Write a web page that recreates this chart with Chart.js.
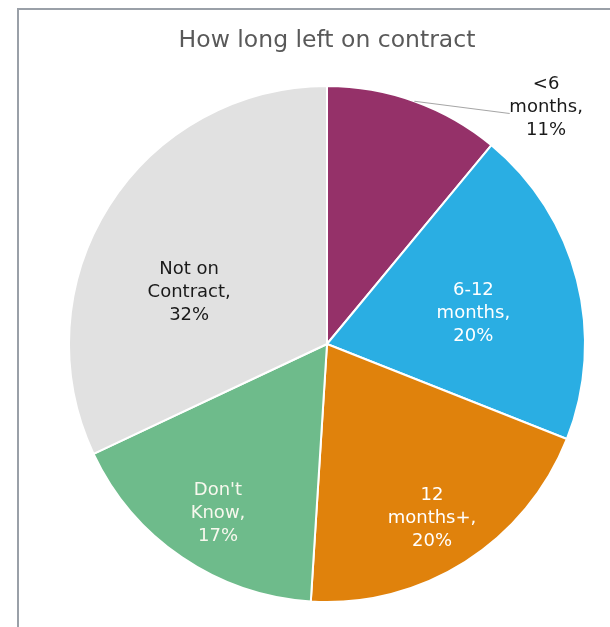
<!DOCTYPE html>
<html>
<head>
<meta charset="utf-8">
<script src="https://cdn.jsdelivr.net/npm/chart.js@4/dist/chart.umd.min.js"></script>
<style>
  html, body { margin: 0; padding: 0; background: #ffffff; }
  #wrap { position: relative; width: 610px; height: 627px; overflow: hidden; }
  canvas { display: block; }
</style>
</head>
<body>
<div id="wrap"><canvas id="c" width="610" height="627"></canvas></div>
<script>
// Categories (line-broken as printed on the slices) and shares in percent
const categories = [["<6", "months"], ["6-12", "months"], ["12", "months+"], ["Don't", "Know"], ["Not on", "Contract"]];
const shares = [11, 20, 20, 17, 32];
const sliceColors = ["#953169", "#2aaee3", "#e0820c", "#6ebb8b", "#e1e1e1"];
const labelColors = ["#1a1a1a", "#ffffff", "#ffffff", "#f8f8ee", "#1a1a1a"];
const chartTitle = "How long left on contract";

// Label placement per slice: radius as fraction of outer radius, angle shift in degrees
const placement = [
  { r: 1.25, shift: 23, leader: { r: 1.14, shift: 18.6 } },
  { r: 0.58, shift: 2.4 },
  { r: 0.79, shift: 1.4 },
  { r: 0.78, shift: -1.4 },
  { r: 0.57, shift: -12 }
];

const FONT = "'DejaVu Sans', Verdana, sans-serif";

const framePlugin = {
  id: 'frame',
  beforeDraw(chart) {
    const ctx = chart.ctx;
    ctx.save();
    ctx.strokeStyle = '#9aa0a8';
    ctx.lineWidth = 2;
    ctx.beginPath();
    ctx.moveTo(18, 700);
    ctx.lineTo(18, 9);
    ctx.lineTo(700, 9);
    ctx.stroke();
    ctx.restore();
  }
};

const sliceLabels = {
  id: 'sliceLabels',
  afterDatasetsDraw(chart) {
    const ctx = chart.ctx;
    const meta = chart.getDatasetMeta(0);
    const values = chart.data.datasets[0].data;
    ctx.save();
    ctx.font = '18px ' + FONT;
    ctx.textAlign = 'center';
    ctx.textBaseline = 'middle';
    meta.data.forEach((arc, i) => {
      const p = arc.getProps(['x', 'y', 'startAngle', 'endAngle', 'outerRadius'], true);
      const mid = (p.startAngle + p.endAngle) / 2;
      const pl = placement[i];
      const a = mid + pl.shift * Math.PI / 180;
      const cx = p.x + Math.cos(a) * p.outerRadius * pl.r;
      const cy = p.y + Math.sin(a) * p.outerRadius * pl.r;
      if (pl.leader) {
        const la = mid + pl.leader.shift * Math.PI / 180;
        ctx.strokeStyle = '#a6a6a6';
        ctx.lineWidth = 1.2;
        ctx.beginPath();
        ctx.moveTo(p.x + Math.cos(mid) * p.outerRadius, p.y + Math.sin(mid) * p.outerRadius);
        ctx.lineTo(p.x + Math.cos(la) * p.outerRadius * pl.leader.r, p.y + Math.sin(la) * p.outerRadius * pl.leader.r);
        ctx.stroke();
      }
      const lines = categories[i].slice();
      lines[lines.length - 1] += ',';
      lines.push(values[i] + '%');
      const lh = 23;
      ctx.fillStyle = labelColors[i];
      lines.forEach((t, k) => {
        ctx.fillText(t, cx, cy + (k - (lines.length - 1) / 2) * lh);
      });
    });
    ctx.restore();
  }
};

new Chart(document.getElementById('c'), {
  type: 'pie',
  data: {
    labels: categories.map(c => c.join(' ')),
    datasets: [{
      data: shares,
      backgroundColor: sliceColors,
      borderColor: '#ffffff',
      borderWidth: 2
    }]
  },
  options: {
    responsive: false,
    animation: false,
    layout: { padding: { left: 68, right: 24, top: 0, bottom: 24 } },
    plugins: {
      legend: { display: false },
      tooltip: { enabled: false },
      title: {
        display: true,
        text: chartTitle,
        color: '#595959',
        font: { family: FONT, size: 23.5, weight: 'normal' },
        padding: { top: 27, bottom: 29.8 }
      }
    }
  },
  plugins: [framePlugin, sliceLabels]
});
</script>
</body>
</html>
